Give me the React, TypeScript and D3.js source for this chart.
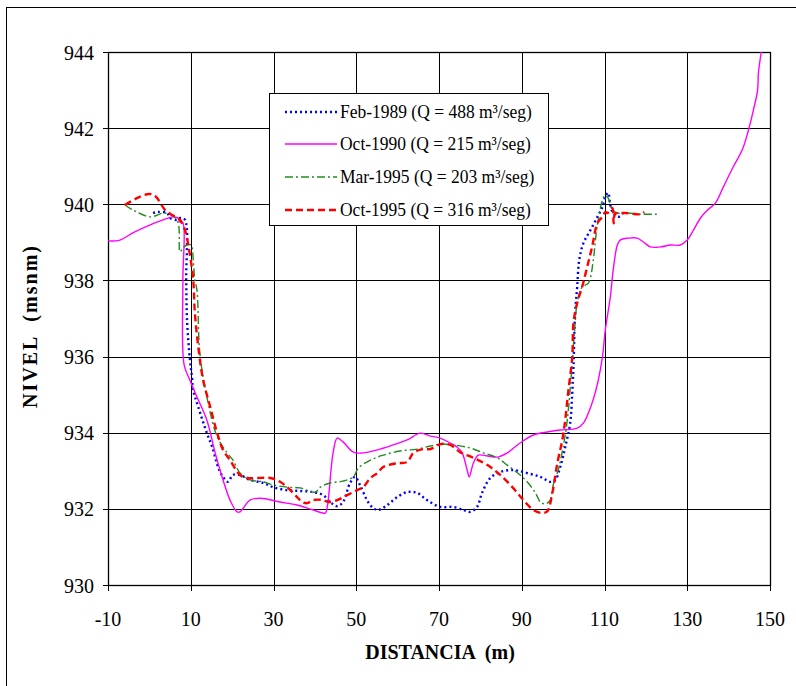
import React from "react";
import * as d3 from "d3";

const xTicks = [-10, 10, 30, 50, 70, 90, 110, 130, 150];
const yTicks = [930, 932, 934, 936, 938, 940, 942, 944];

const febX = [0.9, 2.1, 4.3, 5.0, 6.7, 7.4, 8.6, 8.9, 9.1, 9.8, 10.3, 10.6, 11.8, 13.9, 15.2, 16.6, 17.8, 19.0, 20.2, 21.9, 24.3, 27.5, 29.9, 33.3, 36.4, 39.6, 42.0, 43.7, 45.4, 46.8, 48.5, 49.7, 50.9, 52.6, 54.1, 55.3, 57.5, 59.9, 62.3, 64.7, 67.1, 70.3, 73.4, 75.9, 77.5, 79.2, 80.4, 82.4, 84.8, 87.9, 91.3, 94.5, 96.9, 98.1, 99.3, 100.5, 101.7, 102.2, 102.5, 102.9, 103.4, 103.9, 104.9, 106.6, 108.3, 109.5, 110.2, 110.9, 111.4, 112.1, 113.3, 114.5];
const febY = [939.77, 939.8, 939.77, 939.64, 939.59, 939.64, 939.59, 938.01, 936.96, 935.91, 935.46, 935.12, 934.68, 933.99, 933.62, 933.1, 932.84, 932.71, 932.89, 932.89, 932.76, 932.68, 932.57, 932.49, 932.47, 932.44, 932.36, 932.18, 932.07, 932.18, 932.68, 932.84, 932.63, 932.23, 932.02, 931.97, 932.1, 932.31, 932.44, 932.42, 932.23, 932.05, 932.05, 931.97, 931.92, 932.05, 932.42, 932.81, 932.97, 933.02, 932.94, 932.84, 932.71, 932.76, 933.1, 933.62, 934.25, 935.04, 935.73, 937.14, 937.83, 938.54, 938.98, 939.32, 939.67, 939.93, 940.19, 940.3, 939.98, 939.77, 939.67, 939.77];

const oct90X = [-10, -7.1, -4.0, 0.2, 3.3, 5.7, 6.9, 7.4, 8.1, 8.1, 8.4, 9.8, 11.5, 13.9, 15.9, 17.8, 19.5, 21.2, 21.9, 24.3, 26.8, 31.6, 35.7, 39.6, 42.5, 43.0, 44.4, 45.4, 46.8, 49.3, 51.7, 55.1, 58.9, 62.3, 65.5, 67.9, 70.3, 72.7, 74.4, 75.6, 76.8, 77.3, 78.3, 79.5, 81.7, 84.1, 86.5, 89.6, 92.8, 96.2, 99.3, 103.4, 104.9, 107.0, 108.5, 109.5, 110.2, 111.4, 112.1, 113.1, 113.8, 115.8, 117.9, 119.4, 121.1, 123.5, 125.9, 128.3, 130.0, 131.5, 133.2, 134.9, 136.8, 138.7, 141.1, 143.3, 144.8, 146.0, 147.0, 147.2, 147.9];
const oct90Y = [939.04, 939.06, 939.25, 939.46, 939.59, 939.67, 939.64, 939.53, 939.51, 938.01, 935.78, 935.38, 934.94, 934.33, 933.47, 932.76, 932.23, 931.92, 931.92, 932.23, 932.28, 932.18, 932.1, 931.97, 931.89, 932.05, 933.47, 933.86, 933.76, 933.49, 933.47, 933.55, 933.68, 933.81, 933.99, 933.91, 933.86, 933.73, 933.62, 933.47, 933.02, 932.84, 933.2, 933.41, 933.39, 933.36, 933.47, 933.73, 933.94, 934.02, 934.07, 934.12, 934.25, 934.78, 935.38, 935.99, 936.7, 937.56, 938.27, 938.93, 939.06, 939.11, 939.11, 939.01, 938.88, 938.88, 938.93, 938.93, 939.06, 939.32, 939.64, 939.85, 940.03, 940.45, 940.98, 941.43, 941.95, 942.48, 943.0, 943.45, 944.0];

const mar95X = [-5.9, -4.0, 0.2, 3.8, 6.7, 7.4, 8.1, 9.1, 10.1, 10.6, 11.0, 11.5, 12.2, 13.9, 16.4, 18.8, 20.2, 21.9, 24.3, 27.5, 29.9, 33.3, 36.4, 40.1, 41.3, 43.7, 46.8, 49.3, 50.5, 53.4, 56.5, 60.6, 64.7, 67.9, 70.3, 73.4, 77.5, 80.7, 84.1, 86.5, 89.6, 91.3, 93.3, 94.5, 95.7, 96.9, 97.6, 98.8, 100.0, 101.0, 102.2, 102.9, 103.4, 104.6, 106.1, 107.3, 107.8, 108.5, 109.5, 110.2, 110.9, 111.9, 113.1, 115.5, 118.7, 122.8];
const mar95Y = [939.98, 939.85, 939.67, 939.77, 939.59, 938.75, 938.85, 938.93, 938.93, 938.54, 938.01, 937.75, 936.09, 934.94, 933.89, 933.47, 933.28, 932.94, 932.76, 932.71, 932.63, 932.57, 932.55, 932.44, 932.57, 932.68, 932.73, 932.84, 933.07, 933.28, 933.41, 933.52, 933.57, 933.65, 933.7, 933.68, 933.6, 933.47, 933.34, 933.15, 932.89, 932.71, 932.42, 932.18, 932.13, 932.23, 932.63, 933.02, 933.62, 934.33, 935.83, 936.88, 937.41, 937.83, 937.93, 938.54, 939.06, 939.59, 940.11, 940.24, 940.16, 939.85, 939.77, 939.77, 939.74, 939.74];

const oct95X = [-5.9, -3.0, -0.1, 1.4, 3.8, 5.5, 7.4, 8.6, 9.8, 10.6, 11.0, 12.0, 13.0, 14.7, 16.4, 17.8, 19.5, 21.9, 23.6, 26.0, 29.2, 31.6, 33.3, 35.7, 36.9, 38.1, 39.6, 42.0, 43.2, 45.4, 47.8, 50.2, 51.7, 53.4, 55.1, 56.5, 59.9, 62.3, 63.8, 66.2, 67.9, 70.3, 72.7, 75.1, 78.3, 81.7, 84.8, 87.9, 90.4, 92.8, 95.0, 96.2, 97.4, 98.6, 99.8, 100.5, 101.2, 102.2, 102.5, 103.4, 104.6, 105.8, 107.0, 108.3, 109.5, 110.2, 110.7, 111.9, 112.2, 112.6, 115.0, 118.7, 119.6];
const oct95Y = [939.98, 940.16, 940.27, 940.22, 939.85, 939.72, 939.59, 939.32, 938.67, 938.01, 937.14, 936.09, 935.38, 934.68, 933.99, 933.55, 933.28, 932.89, 932.81, 932.81, 932.81, 932.71, 932.57, 932.31, 932.18, 932.15, 932.23, 932.23, 932.18, 932.23, 932.36, 932.49, 932.57, 932.81, 932.94, 933.1, 933.2, 933.23, 933.47, 933.57, 933.57, 933.7, 933.68, 933.49, 933.34, 933.15, 932.89, 932.55, 932.23, 931.97, 931.89, 931.94, 932.42, 933.2, 933.81, 934.33, 935.04, 935.99, 936.88, 937.41, 937.83, 938.35, 938.88, 939.51, 939.67, 939.8, 939.77, 939.9, 939.5, 939.75, 939.77, 939.74, 939.8];

const seriesNames = [
  "Feb-1989 (Q = 488 m³/seg)",
  "Oct-1990 (Q = 215 m³/seg)",
  "Mar-1995 (Q = 203 m³/seg)",
  "Oct-1995 (Q = 316 m³/seg)",
];

const FONT = "'Times New Roman', 'Liberation Serif', serif";
const SY = 1.1;

export default function App() {
  const W = 796, H = 686;
  const L = 108, R = 770, T = 52, B = 585;
  const x = d3.scaleLinear().domain([-10, 150]).range([L, R]);
  const y = d3.scaleLinear().domain([930, 944]).range([B, T]);

  const series = [
    { xs: febX, ys: febY, color: "#0000FF", width: 2.4, dash: "2,3" },
    { xs: oct90X, ys: oct90Y, color: "#FF00FF", width: 1.4, dash: "" },
    { xs: mar95X, ys: mar95Y, color: "#228B22", width: 1.4, dash: "8,3,2,3" },
    { xs: oct95X, ys: oct95Y, color: "#FF0000", width: 2.4, dash: "7,4" },
  ];

  const line = d3
    .line<[number, number]>()
    .x((d) => x(d[0]))
    .y((d) => y(d[1]))
    .curve(d3.curveCatmullRom.alpha(0.5));

  const lgX = 269, lgY = 93, lgW = 279, lgH = 132;
  const lgRows = [112, 144, 177, 210];
  const txt = { fontFamily: FONT };

  return (
    <svg
      width={W}
      height={H}
      style={{ display: "block", position: "absolute", left: 0, top: 0, fontFamily: FONT }}
    >
      <rect x={6.5} y={7.5} width={W} height={H} fill="white" stroke="#000" strokeWidth={1} />
      {xTicks.map((t) => (
        <line key={"gx" + t} x1={Math.round(x(t)) + 0.5} x2={Math.round(x(t)) + 0.5} y1={T} y2={B + 6} stroke="#000" strokeWidth={1} />
      ))}
      {yTicks.map((t) => (
        <line key={"gy" + t} x1={L - 5} x2={R} y1={Math.round(y(t)) + 0.5} y2={Math.round(y(t)) + 0.5} stroke="#000" strokeWidth={1} />
      ))}
      <rect x={L + 0.5} y={T + 0.5} width={R - L} height={B - T} fill="none" stroke="#000" strokeWidth={1.3} />
      <g>
        {series.map((s, i) => (
          <path
            key={i}
            d={line(s.xs.map((v, j) => [v, s.ys[j]] as [number, number])) || ""}
            fill="none"
            stroke={s.color}
            strokeWidth={s.width}
            strokeDasharray={s.dash || undefined}
            strokeLinejoin="round"
          />
        ))}
      </g>
      {yTicks.map((t) => (
        <text
          key={"ty" + t}
          transform={`translate(94, ${y(t) + 7.5}) scale(1, ${SY})`}
          textAnchor="end"
          fontSize={20}
          fill="#000"
          style={txt}
        >
          {t}
        </text>
      ))}
      {xTicks.map((t) => (
        <text
          key={"tx" + t}
          transform={`translate(${x(t)}, 626) scale(1, ${SY})`}
          textAnchor="middle"
          fontSize={20}
          fill="#000"
          style={txt}
        >
          {t}
        </text>
      ))}
      <text
        transform={`translate(440, 659) scale(1, ${SY})`}
        textAnchor="middle"
        fontSize={20}
        fontWeight="bold"
        style={{ ...txt, whiteSpace: "pre" }}
      >
        {"DISTANCIA  (m)"}
      </text>
      <text
        transform={`translate(37, 327) rotate(-90)`}
        textAnchor="middle"
        fontSize={20}
        fontWeight="bold"
        textLength={162}
        lengthAdjust="spacing"
        style={{ ...txt, whiteSpace: "pre" }}
      >
        {"NIVEL  (msnm)"}
      </text>
      <rect x={lgX + 0.5} y={lgY + 0.5} width={lgW} height={lgH} fill="white" stroke="#000" strokeWidth={1} />
      {series.map((s, i) => (
        <g key={"lg" + i}>
          <line
            x1={285}
            x2={337}
            y1={lgRows[i]}
            y2={lgRows[i]}
            stroke={s.color}
            strokeWidth={s.width}
            strokeDasharray={s.dash || undefined}
          />
          <text
            transform={`translate(340, ${lgRows[i] + 6}) scale(1, ${SY})`}
            fontSize={17.5}
            fill="#000"
            style={txt}
          >
            {seriesNames[i]}
          </text>
        </g>
      ))}
    </svg>
  );
}
